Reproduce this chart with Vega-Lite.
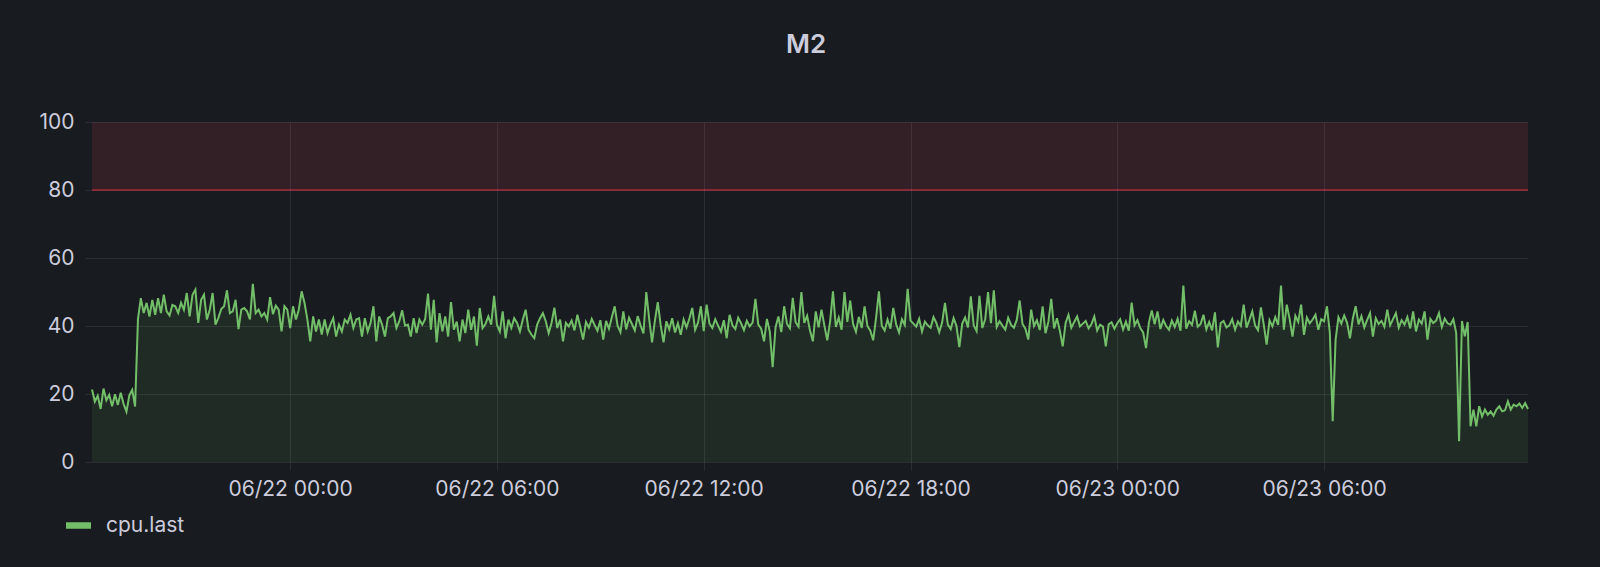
{
"$schema": "https://vega.github.io/schema/vega-lite/v6.json",
"width": 1436,
"height": 340,
"autosize": "none",
"padding": {"left": 92, "top": 122, "right": 72, "bottom": 105},
"background": "#181b1f",
"title": {"text": "M2", "font": "Inter", "fontSize": 26, "fontWeight": 600, "color": "#ccccdc", "anchor": "middle", "frame": "group", "offset": 53, "dx": -4},
"datasets": {
"thr": [{"lo": 80, "hi": 100}],
"cpu": [
{"t":"2021-06-21T18:15:00Z","v":21.3},{"t":"2021-06-21T18:20:00Z","v":17.8},{"t":"2021-06-21T18:25:00Z","v":19.5},{"t":"2021-06-21T18:30:00Z","v":15.6},{"t":"2021-06-21T18:35:00Z","v":21.6},{"t":"2021-06-21T18:40:00Z","v":18.2},{"t":"2021-06-21T18:45:00Z","v":19.8},{"t":"2021-06-21T18:50:00Z","v":16.4},{"t":"2021-06-21T18:55:00Z","v":19.9},
{"t":"2021-06-21T19:00:00Z","v":16.8},{"t":"2021-06-21T19:05:00Z","v":20.4},{"t":"2021-06-21T19:10:00Z","v":17.1},{"t":"2021-06-21T19:15:00Z","v":14.8},{"t":"2021-06-21T19:20:00Z","v":19.6},{"t":"2021-06-21T19:25:00Z","v":21.2},{"t":"2021-06-21T19:30:00Z","v":16.3},{"t":"2021-06-21T19:35:00Z","v":42.0},{"t":"2021-06-21T19:40:00Z","v":48.2},{"t":"2021-06-21T19:45:00Z","v":43.8},{"t":"2021-06-21T19:50:00Z","v":46.8},{"t":"2021-06-21T19:55:00Z","v":42.8},
{"t":"2021-06-21T20:00:00Z","v":47.7},{"t":"2021-06-21T20:05:00Z","v":43.3},{"t":"2021-06-21T20:10:00Z","v":48.2},{"t":"2021-06-21T20:15:00Z","v":43.8},{"t":"2021-06-21T20:20:00Z","v":49.2},{"t":"2021-06-21T20:25:00Z","v":44.3},{"t":"2021-06-21T20:30:00Z","v":43.1},{"t":"2021-06-21T20:35:00Z","v":46.2},{"t":"2021-06-21T20:40:00Z","v":45.8},{"t":"2021-06-21T20:45:00Z","v":43.8},{"t":"2021-06-21T20:50:00Z","v":46.8},{"t":"2021-06-21T20:55:00Z","v":44.8},
{"t":"2021-06-21T21:00:00Z","v":49.7},{"t":"2021-06-21T21:05:00Z","v":42.8},{"t":"2021-06-21T21:10:00Z","v":49.2},{"t":"2021-06-21T21:15:00Z","v":50.7},{"t":"2021-06-21T21:20:00Z","v":40.9},{"t":"2021-06-21T21:25:00Z","v":47.7},{"t":"2021-06-21T21:30:00Z","v":49.2},{"t":"2021-06-21T21:35:00Z","v":41.9},{"t":"2021-06-21T21:40:00Z","v":44.8},{"t":"2021-06-21T21:45:00Z","v":49.7},{"t":"2021-06-21T21:50:00Z","v":40.4},{"t":"2021-06-21T21:55:00Z","v":42.4},
{"t":"2021-06-21T22:00:00Z","v":45.0},{"t":"2021-06-21T22:05:00Z","v":45.8},{"t":"2021-06-21T22:10:00Z","v":50.5},{"t":"2021-06-21T22:15:00Z","v":43.8},{"t":"2021-06-21T22:20:00Z","v":44.3},{"t":"2021-06-21T22:25:00Z","v":47.7},{"t":"2021-06-21T22:30:00Z","v":39.1},{"t":"2021-06-21T22:35:00Z","v":44.8},{"t":"2021-06-21T22:40:00Z","v":45.3},{"t":"2021-06-21T22:45:00Z","v":44.3},{"t":"2021-06-21T22:50:00Z","v":41.9},{"t":"2021-06-21T22:55:00Z","v":52.4},
{"t":"2021-06-21T23:00:00Z","v":43.8},{"t":"2021-06-21T23:05:00Z","v":44.8},{"t":"2021-06-21T23:10:00Z","v":42.8},{"t":"2021-06-21T23:15:00Z","v":43.8},{"t":"2021-06-21T23:20:00Z","v":41.9},{"t":"2021-06-21T23:25:00Z","v":48.5},{"t":"2021-06-21T23:30:00Z","v":43.5},{"t":"2021-06-21T23:35:00Z","v":46.0},{"t":"2021-06-21T23:40:00Z","v":44.8},{"t":"2021-06-21T23:45:00Z","v":38.4},{"t":"2021-06-21T23:50:00Z","v":45.8},{"t":"2021-06-21T23:55:00Z","v":44.8},
{"t":"2021-06-22T00:00:00Z","v":39.4},{"t":"2021-06-22T00:05:00Z","v":45.8},{"t":"2021-06-22T00:10:00Z","v":41.9},{"t":"2021-06-22T00:15:00Z","v":44.8},{"t":"2021-06-22T00:20:00Z","v":50.2},{"t":"2021-06-22T00:25:00Z","v":46.8},{"t":"2021-06-22T00:30:00Z","v":41.9},{"t":"2021-06-22T00:35:00Z","v":35.5},{"t":"2021-06-22T00:40:00Z","v":42.8},{"t":"2021-06-22T00:45:00Z","v":38.4},{"t":"2021-06-22T00:50:00Z","v":41.9},{"t":"2021-06-22T00:55:00Z","v":37.5},
{"t":"2021-06-22T01:00:00Z","v":41.9},{"t":"2021-06-22T01:05:00Z","v":37.9},{"t":"2021-06-22T01:10:00Z","v":40.4},{"t":"2021-06-22T01:15:00Z","v":42.3},{"t":"2021-06-22T01:20:00Z","v":36.9},{"t":"2021-06-22T01:25:00Z","v":40.4},{"t":"2021-06-22T01:30:00Z","v":38.4},{"t":"2021-06-22T01:35:00Z","v":41.9},{"t":"2021-06-22T01:40:00Z","v":40.9},{"t":"2021-06-22T01:45:00Z","v":43.3},{"t":"2021-06-22T01:50:00Z","v":39.4},{"t":"2021-06-22T01:55:00Z","v":41.9},
{"t":"2021-06-22T02:00:00Z","v":42.3},{"t":"2021-06-22T02:05:00Z","v":36.9},{"t":"2021-06-22T02:10:00Z","v":42.3},{"t":"2021-06-22T02:15:00Z","v":38.4},{"t":"2021-06-22T02:20:00Z","v":40.9},{"t":"2021-06-22T02:25:00Z","v":45.8},{"t":"2021-06-22T02:30:00Z","v":35.5},{"t":"2021-06-22T02:35:00Z","v":42.8},{"t":"2021-06-22T02:40:00Z","v":40.4},{"t":"2021-06-22T02:45:00Z","v":36.9},{"t":"2021-06-22T02:50:00Z","v":42.3},{"t":"2021-06-22T02:55:00Z","v":42.8},
{"t":"2021-06-22T03:00:00Z","v":43.8},{"t":"2021-06-22T03:05:00Z","v":39.4},{"t":"2021-06-22T03:10:00Z","v":41.4},{"t":"2021-06-22T03:15:00Z","v":44.6},{"t":"2021-06-22T03:20:00Z","v":40.1},{"t":"2021-06-22T03:25:00Z","v":40.4},{"t":"2021-06-22T03:30:00Z","v":36.9},{"t":"2021-06-22T03:35:00Z","v":42.3},{"t":"2021-06-22T03:40:00Z","v":37.9},{"t":"2021-06-22T03:45:00Z","v":41.9},{"t":"2021-06-22T03:50:00Z","v":40.4},{"t":"2021-06-22T03:55:00Z","v":42.0},
{"t":"2021-06-22T04:00:00Z","v":49.5},{"t":"2021-06-22T04:05:00Z","v":38.9},{"t":"2021-06-22T04:10:00Z","v":47.7},{"t":"2021-06-22T04:15:00Z","v":35.2},{"t":"2021-06-22T04:20:00Z","v":43.8},{"t":"2021-06-22T04:25:00Z","v":38.4},{"t":"2021-06-22T04:30:00Z","v":42.8},{"t":"2021-06-22T04:35:00Z","v":36.9},{"t":"2021-06-22T04:40:00Z","v":47.0},{"t":"2021-06-22T04:45:00Z","v":38.9},{"t":"2021-06-22T04:50:00Z","v":41.3},{"t":"2021-06-22T04:55:00Z","v":35.5},
{"t":"2021-06-22T05:00:00Z","v":41.9},{"t":"2021-06-22T05:05:00Z","v":37.9},{"t":"2021-06-22T05:10:00Z","v":44.8},{"t":"2021-06-22T05:15:00Z","v":38.9},{"t":"2021-06-22T05:20:00Z","v":42.8},{"t":"2021-06-22T05:25:00Z","v":34.2},{"t":"2021-06-22T05:30:00Z","v":45.3},{"t":"2021-06-22T05:35:00Z","v":39.4},{"t":"2021-06-22T05:40:00Z","v":40.6},{"t":"2021-06-22T05:45:00Z","v":42.8},{"t":"2021-06-22T05:50:00Z","v":40.4},{"t":"2021-06-22T05:55:00Z","v":48.9},
{"t":"2021-06-22T06:00:00Z","v":40.4},{"t":"2021-06-22T06:05:00Z","v":38.4},{"t":"2021-06-22T06:10:00Z","v":44.3},{"t":"2021-06-22T06:15:00Z","v":36.4},{"t":"2021-06-22T06:20:00Z","v":41.9},{"t":"2021-06-22T06:25:00Z","v":39.4},{"t":"2021-06-22T06:30:00Z","v":42.3},{"t":"2021-06-22T06:35:00Z","v":40.9},{"t":"2021-06-22T06:40:00Z","v":38.4},{"t":"2021-06-22T06:45:00Z","v":41.9},{"t":"2021-06-22T06:50:00Z","v":44.8},{"t":"2021-06-22T06:55:00Z","v":38.9},
{"t":"2021-06-22T07:00:00Z","v":37.5},{"t":"2021-06-22T07:05:00Z","v":36.4},{"t":"2021-06-22T07:10:00Z","v":40.4},{"t":"2021-06-22T07:15:00Z","v":42.3},{"t":"2021-06-22T07:20:00Z","v":43.8},{"t":"2021-06-22T07:25:00Z","v":41.4},{"t":"2021-06-22T07:30:00Z","v":37.9},{"t":"2021-06-22T07:35:00Z","v":40.9},{"t":"2021-06-22T07:40:00Z","v":45.4},{"t":"2021-06-22T07:45:00Z","v":39.4},{"t":"2021-06-22T07:50:00Z","v":41.9},{"t":"2021-06-22T07:55:00Z","v":35.5},
{"t":"2021-06-22T08:00:00Z","v":40.9},{"t":"2021-06-22T08:05:00Z","v":39.9},{"t":"2021-06-22T08:10:00Z","v":41.6},{"t":"2021-06-22T08:15:00Z","v":38.7},{"t":"2021-06-22T08:20:00Z","v":43.3},{"t":"2021-06-22T08:25:00Z","v":39.8},{"t":"2021-06-22T08:30:00Z","v":36.0},{"t":"2021-06-22T08:35:00Z","v":41.2},{"t":"2021-06-22T08:40:00Z","v":39.5},{"t":"2021-06-22T08:45:00Z","v":42.1},{"t":"2021-06-22T08:50:00Z","v":40.3},{"t":"2021-06-22T08:55:00Z","v":38.6},
{"t":"2021-06-22T09:00:00Z","v":41.7},{"t":"2021-06-22T09:05:00Z","v":36.0},{"t":"2021-06-22T09:10:00Z","v":41.5},{"t":"2021-06-22T09:15:00Z","v":39.2},{"t":"2021-06-22T09:20:00Z","v":42.6},{"t":"2021-06-22T09:25:00Z","v":45.8},{"t":"2021-06-22T09:30:00Z","v":40.1},{"t":"2021-06-22T09:35:00Z","v":38.2},{"t":"2021-06-22T09:40:00Z","v":44.3},{"t":"2021-06-22T09:45:00Z","v":39.0},{"t":"2021-06-22T09:50:00Z","v":42.4},{"t":"2021-06-22T09:55:00Z","v":40.6},
{"t":"2021-06-22T10:00:00Z","v":38.7},{"t":"2021-06-22T10:05:00Z","v":42.9},{"t":"2021-06-22T10:10:00Z","v":40.2},{"t":"2021-06-22T10:15:00Z","v":37.8},{"t":"2021-06-22T10:20:00Z","v":50.0},{"t":"2021-06-22T10:25:00Z","v":42.1},{"t":"2021-06-22T10:30:00Z","v":35.2},{"t":"2021-06-22T10:35:00Z","v":41.6},{"t":"2021-06-22T10:40:00Z","v":47.0},{"t":"2021-06-22T10:45:00Z","v":40.3},{"t":"2021-06-22T10:50:00Z","v":35.2},{"t":"2021-06-22T10:55:00Z","v":41.4},
{"t":"2021-06-22T11:00:00Z","v":39.0},{"t":"2021-06-22T11:05:00Z","v":42.3},{"t":"2021-06-22T11:10:00Z","v":38.1},{"t":"2021-06-22T11:15:00Z","v":40.8},{"t":"2021-06-22T11:20:00Z","v":37.4},{"t":"2021-06-22T11:25:00Z","v":41.9},{"t":"2021-06-22T11:30:00Z","v":39.6},{"t":"2021-06-22T11:35:00Z","v":42.2},{"t":"2021-06-22T11:40:00Z","v":45.3},{"t":"2021-06-22T11:45:00Z","v":38.9},{"t":"2021-06-22T11:50:00Z","v":41.0},{"t":"2021-06-22T11:55:00Z","v":45.8},
{"t":"2021-06-22T12:00:00Z","v":38.5},{"t":"2021-06-22T12:05:00Z","v":46.3},{"t":"2021-06-22T12:10:00Z","v":40.7},{"t":"2021-06-22T12:15:00Z","v":39.4},{"t":"2021-06-22T12:20:00Z","v":42.0},{"t":"2021-06-22T12:25:00Z","v":40.1},{"t":"2021-06-22T12:30:00Z","v":38.3},{"t":"2021-06-22T12:35:00Z","v":41.7},{"t":"2021-06-22T12:40:00Z","v":36.4},{"t":"2021-06-22T12:45:00Z","v":43.3},{"t":"2021-06-22T12:50:00Z","v":40.2},{"t":"2021-06-22T12:55:00Z","v":39.1},
{"t":"2021-06-22T13:00:00Z","v":42.4},{"t":"2021-06-22T13:05:00Z","v":40.8},{"t":"2021-06-22T13:10:00Z","v":38.8},{"t":"2021-06-22T13:15:00Z","v":41.5},{"t":"2021-06-22T13:20:00Z","v":39.9},{"t":"2021-06-22T13:25:00Z","v":41.0},{"t":"2021-06-22T13:30:00Z","v":48.0},{"t":"2021-06-22T13:35:00Z","v":40.4},{"t":"2021-06-22T13:40:00Z","v":39.2},{"t":"2021-06-22T13:45:00Z","v":35.5},{"t":"2021-06-22T13:50:00Z","v":42.1},{"t":"2021-06-22T13:55:00Z","v":38.4},
{"t":"2021-06-22T14:00:00Z","v":27.9},{"t":"2021-06-22T14:05:00Z","v":39.6},{"t":"2021-06-22T14:10:00Z","v":42.8},{"t":"2021-06-22T14:15:00Z","v":38.2},{"t":"2021-06-22T14:20:00Z","v":45.8},{"t":"2021-06-22T14:25:00Z","v":40.6},{"t":"2021-06-22T14:30:00Z","v":39.3},{"t":"2021-06-22T14:35:00Z","v":48.3},{"t":"2021-06-22T14:40:00Z","v":41.1},{"t":"2021-06-22T14:45:00Z","v":39.8},{"t":"2021-06-22T14:50:00Z","v":50.0},{"t":"2021-06-22T14:55:00Z","v":40.9},
{"t":"2021-06-22T15:00:00Z","v":43.0},{"t":"2021-06-22T15:05:00Z","v":38.7},{"t":"2021-06-22T15:10:00Z","v":35.5},{"t":"2021-06-22T15:15:00Z","v":44.3},{"t":"2021-06-22T15:20:00Z","v":39.6},{"t":"2021-06-22T15:25:00Z","v":44.8},{"t":"2021-06-22T15:30:00Z","v":40.2},{"t":"2021-06-22T15:35:00Z","v":35.8},{"t":"2021-06-22T15:40:00Z","v":41.3},{"t":"2021-06-22T15:45:00Z","v":50.2},{"t":"2021-06-22T15:50:00Z","v":39.7},{"t":"2021-06-22T15:55:00Z","v":42.5},
{"t":"2021-06-22T16:00:00Z","v":38.9},{"t":"2021-06-22T16:05:00Z","v":50.0},{"t":"2021-06-22T16:10:00Z","v":41.2},{"t":"2021-06-22T16:15:00Z","v":47.5},{"t":"2021-06-22T16:20:00Z","v":40.6},{"t":"2021-06-22T16:25:00Z","v":38.3},{"t":"2021-06-22T16:30:00Z","v":42.7},{"t":"2021-06-22T16:35:00Z","v":39.4},{"t":"2021-06-22T16:40:00Z","v":45.8},{"t":"2021-06-22T16:45:00Z","v":40.0},{"t":"2021-06-22T16:50:00Z","v":38.6},{"t":"2021-06-22T16:55:00Z","v":35.8},
{"t":"2021-06-22T17:00:00Z","v":42.4},{"t":"2021-06-22T17:05:00Z","v":50.2},{"t":"2021-06-22T17:10:00Z","v":40.1},{"t":"2021-06-22T17:15:00Z","v":38.7},{"t":"2021-06-22T17:20:00Z","v":41.9},{"t":"2021-06-22T17:25:00Z","v":39.2},{"t":"2021-06-22T17:30:00Z","v":45.3},{"t":"2021-06-22T17:35:00Z","v":40.5},{"t":"2021-06-22T17:40:00Z","v":38.1},{"t":"2021-06-22T17:45:00Z","v":42.0},{"t":"2021-06-22T17:50:00Z","v":40.3},{"t":"2021-06-22T17:55:00Z","v":50.9},
{"t":"2021-06-22T18:00:00Z","v":41.6},{"t":"2021-06-22T18:05:00Z","v":40.7},{"t":"2021-06-22T18:10:00Z","v":39.8},{"t":"2021-06-22T18:15:00Z","v":42.1},{"t":"2021-06-22T18:20:00Z","v":38.4},{"t":"2021-06-22T18:25:00Z","v":41.3},{"t":"2021-06-22T18:30:00Z","v":40.2},{"t":"2021-06-22T18:35:00Z","v":39.5},{"t":"2021-06-22T18:40:00Z","v":42.6},{"t":"2021-06-22T18:45:00Z","v":40.9},{"t":"2021-06-22T18:50:00Z","v":38.2},{"t":"2021-06-22T18:55:00Z","v":41.0},
{"t":"2021-06-22T19:00:00Z","v":46.8},{"t":"2021-06-22T19:05:00Z","v":40.4},{"t":"2021-06-22T19:10:00Z","v":39.1},{"t":"2021-06-22T19:15:00Z","v":42.3},{"t":"2021-06-22T19:20:00Z","v":40.0},{"t":"2021-06-22T19:25:00Z","v":33.8},{"t":"2021-06-22T19:30:00Z","v":40.7},{"t":"2021-06-22T19:35:00Z","v":42.5},{"t":"2021-06-22T19:40:00Z","v":39.6},{"t":"2021-06-22T19:45:00Z","v":48.7},{"t":"2021-06-22T19:50:00Z","v":40.2},{"t":"2021-06-22T19:55:00Z","v":38.5},
{"t":"2021-06-22T20:00:00Z","v":48.9},{"t":"2021-06-22T20:05:00Z","v":39.4},{"t":"2021-06-22T20:10:00Z","v":42.0},{"t":"2021-06-22T20:15:00Z","v":50.0},{"t":"2021-06-22T20:20:00Z","v":40.8},{"t":"2021-06-22T20:25:00Z","v":50.5},{"t":"2021-06-22T20:30:00Z","v":39.7},{"t":"2021-06-22T20:35:00Z","v":41.4},{"t":"2021-06-22T20:40:00Z","v":40.1},{"t":"2021-06-22T20:45:00Z","v":38.9},{"t":"2021-06-22T20:50:00Z","v":42.4},{"t":"2021-06-22T20:55:00Z","v":40.3},
{"t":"2021-06-22T21:00:00Z","v":39.5},{"t":"2021-06-22T21:05:00Z","v":41.8},{"t":"2021-06-22T21:10:00Z","v":47.5},{"t":"2021-06-22T21:15:00Z","v":40.6},{"t":"2021-06-22T21:20:00Z","v":39.2},{"t":"2021-06-22T21:25:00Z","v":36.0},{"t":"2021-06-22T21:30:00Z","v":44.8},{"t":"2021-06-22T21:35:00Z","v":40.0},{"t":"2021-06-22T21:40:00Z","v":41.7},{"t":"2021-06-22T21:45:00Z","v":38.8},{"t":"2021-06-22T21:50:00Z","v":45.8},{"t":"2021-06-22T21:55:00Z","v":37.9},
{"t":"2021-06-22T22:00:00Z","v":41.2},{"t":"2021-06-22T22:05:00Z","v":48.0},{"t":"2021-06-22T22:10:00Z","v":39.3},{"t":"2021-06-22T22:15:00Z","v":42.3},{"t":"2021-06-22T22:20:00Z","v":38.6},{"t":"2021-06-22T22:25:00Z","v":34.0},{"t":"2021-06-22T22:30:00Z","v":40.9},{"t":"2021-06-22T22:35:00Z","v":43.3},{"t":"2021-06-22T22:40:00Z","v":39.5},{"t":"2021-06-22T22:45:00Z","v":41.2},{"t":"2021-06-22T22:50:00Z","v":42.8},{"t":"2021-06-22T22:55:00Z","v":39.9},
{"t":"2021-06-22T23:00:00Z","v":40.7},{"t":"2021-06-22T23:05:00Z","v":41.5},{"t":"2021-06-22T23:10:00Z","v":39.3},{"t":"2021-06-22T23:15:00Z","v":40.6},{"t":"2021-06-22T23:20:00Z","v":42.8},{"t":"2021-06-22T23:25:00Z","v":38.7},{"t":"2021-06-22T23:30:00Z","v":40.4},{"t":"2021-06-22T23:35:00Z","v":39.8},{"t":"2021-06-22T23:40:00Z","v":34.0},{"t":"2021-06-22T23:45:00Z","v":40.5},{"t":"2021-06-22T23:50:00Z","v":41.1},{"t":"2021-06-22T23:55:00Z","v":39.2},
{"t":"2021-06-23T00:00:00Z","v":40.8},{"t":"2021-06-23T00:05:00Z","v":42.0},{"t":"2021-06-23T00:10:00Z","v":39.0},{"t":"2021-06-23T00:15:00Z","v":41.3},{"t":"2021-06-23T00:20:00Z","v":38.6},{"t":"2021-06-23T00:25:00Z","v":46.9},{"t":"2021-06-23T00:30:00Z","v":40.2},{"t":"2021-06-23T00:35:00Z","v":41.7},{"t":"2021-06-23T00:40:00Z","v":39.4},{"t":"2021-06-23T00:45:00Z","v":38.1},{"t":"2021-06-23T00:50:00Z","v":33.5},{"t":"2021-06-23T00:55:00Z","v":41.0},
{"t":"2021-06-23T01:00:00Z","v":44.6},{"t":"2021-06-23T01:05:00Z","v":40.5},{"t":"2021-06-23T01:10:00Z","v":44.3},{"t":"2021-06-23T01:15:00Z","v":39.1},{"t":"2021-06-23T01:20:00Z","v":41.8},{"t":"2021-06-23T01:25:00Z","v":40.0},{"t":"2021-06-23T01:30:00Z","v":38.9},{"t":"2021-06-23T01:35:00Z","v":41.6},{"t":"2021-06-23T01:40:00Z","v":39.7},{"t":"2021-06-23T01:45:00Z","v":42.1},{"t":"2021-06-23T01:50:00Z","v":38.6},{"t":"2021-06-23T01:55:00Z","v":51.9},
{"t":"2021-06-23T02:00:00Z","v":39.2},{"t":"2021-06-23T02:05:00Z","v":41.4},{"t":"2021-06-23T02:10:00Z","v":40.3},{"t":"2021-06-23T02:15:00Z","v":44.5},{"t":"2021-06-23T02:20:00Z","v":39.8},{"t":"2021-06-23T02:25:00Z","v":40.6},{"t":"2021-06-23T02:30:00Z","v":43.3},{"t":"2021-06-23T02:35:00Z","v":39.0},{"t":"2021-06-23T02:40:00Z","v":41.2},{"t":"2021-06-23T02:45:00Z","v":38.7},{"t":"2021-06-23T02:50:00Z","v":44.0},{"t":"2021-06-23T02:55:00Z","v":33.7},
{"t":"2021-06-23T03:00:00Z","v":40.9},{"t":"2021-06-23T03:05:00Z","v":41.5},{"t":"2021-06-23T03:10:00Z","v":39.6},{"t":"2021-06-23T03:15:00Z","v":40.2},{"t":"2021-06-23T03:20:00Z","v":42.0},{"t":"2021-06-23T03:25:00Z","v":38.9},{"t":"2021-06-23T03:30:00Z","v":41.3},{"t":"2021-06-23T03:35:00Z","v":40.0},{"t":"2021-06-23T03:40:00Z","v":46.3},{"t":"2021-06-23T03:45:00Z","v":39.5},{"t":"2021-06-23T03:50:00Z","v":41.8},{"t":"2021-06-23T03:55:00Z","v":44.3},
{"t":"2021-06-23T04:00:00Z","v":40.1},{"t":"2021-06-23T04:05:00Z","v":38.8},{"t":"2021-06-23T04:10:00Z","v":45.5},{"t":"2021-06-23T04:15:00Z","v":40.4},{"t":"2021-06-23T04:20:00Z","v":34.5},{"t":"2021-06-23T04:25:00Z","v":41.7},{"t":"2021-06-23T04:30:00Z","v":39.9},{"t":"2021-06-23T04:35:00Z","v":42.6},{"t":"2021-06-23T04:40:00Z","v":40.3},{"t":"2021-06-23T04:45:00Z","v":51.9},{"t":"2021-06-23T04:50:00Z","v":38.9},{"t":"2021-06-23T04:55:00Z","v":46.3},
{"t":"2021-06-23T05:00:00Z","v":42.1},{"t":"2021-06-23T05:05:00Z","v":36.9},{"t":"2021-06-23T05:10:00Z","v":43.0},{"t":"2021-06-23T05:15:00Z","v":41.2},{"t":"2021-06-23T05:20:00Z","v":46.3},{"t":"2021-06-23T05:25:00Z","v":37.4},{"t":"2021-06-23T05:30:00Z","v":42.5},{"t":"2021-06-23T05:35:00Z","v":40.8},{"t":"2021-06-23T05:40:00Z","v":41.9},{"t":"2021-06-23T05:45:00Z","v":43.3},{"t":"2021-06-23T05:50:00Z","v":38.9},{"t":"2021-06-23T05:55:00Z","v":42.0},
{"t":"2021-06-23T06:00:00Z","v":41.4},{"t":"2021-06-23T06:05:00Z","v":45.8},{"t":"2021-06-23T06:10:00Z","v":38.0},{"t":"2021-06-23T06:15:00Z","v":12.0},{"t":"2021-06-23T06:20:00Z","v":36.0},{"t":"2021-06-23T06:25:00Z","v":42.6},{"t":"2021-06-23T06:30:00Z","v":40.7},{"t":"2021-06-23T06:35:00Z","v":43.1},{"t":"2021-06-23T06:40:00Z","v":41.0},{"t":"2021-06-23T06:45:00Z","v":36.4},{"t":"2021-06-23T06:50:00Z","v":42.2},{"t":"2021-06-23T06:55:00Z","v":45.8},
{"t":"2021-06-23T07:00:00Z","v":40.5},{"t":"2021-06-23T07:05:00Z","v":42.9},{"t":"2021-06-23T07:10:00Z","v":39.6},{"t":"2021-06-23T07:15:00Z","v":41.8},{"t":"2021-06-23T07:20:00Z","v":43.8},{"t":"2021-06-23T07:25:00Z","v":36.9},{"t":"2021-06-23T07:30:00Z","v":42.3},{"t":"2021-06-23T07:35:00Z","v":40.6},{"t":"2021-06-23T07:40:00Z","v":41.5},{"t":"2021-06-23T07:45:00Z","v":39.8},{"t":"2021-06-23T07:50:00Z","v":44.8},{"t":"2021-06-23T07:55:00Z","v":40.2},
{"t":"2021-06-23T08:00:00Z","v":42.0},{"t":"2021-06-23T08:05:00Z","v":43.8},{"t":"2021-06-23T08:10:00Z","v":39.5},{"t":"2021-06-23T08:15:00Z","v":41.7},{"t":"2021-06-23T08:20:00Z","v":40.4},{"t":"2021-06-23T08:25:00Z","v":42.6},{"t":"2021-06-23T08:30:00Z","v":39.3},{"t":"2021-06-23T08:35:00Z","v":44.3},{"t":"2021-06-23T08:40:00Z","v":38.4},{"t":"2021-06-23T08:45:00Z","v":41.9},{"t":"2021-06-23T08:50:00Z","v":40.7},{"t":"2021-06-23T08:55:00Z","v":44.3},
{"t":"2021-06-23T09:00:00Z","v":36.0},{"t":"2021-06-23T09:05:00Z","v":42.1},{"t":"2021-06-23T09:10:00Z","v":40.9},{"t":"2021-06-23T09:15:00Z","v":41.6},{"t":"2021-06-23T09:20:00Z","v":43.8},{"t":"2021-06-23T09:25:00Z","v":39.7},{"t":"2021-06-23T09:30:00Z","v":42.2},{"t":"2021-06-23T09:35:00Z","v":40.8},{"t":"2021-06-23T09:40:00Z","v":40.4},{"t":"2021-06-23T09:45:00Z","v":42.0},{"t":"2021-06-23T09:50:00Z","v":38.0},{"t":"2021-06-23T09:55:00Z","v":6.1},
{"t":"2021-06-23T10:00:00Z","v":41.5},{"t":"2021-06-23T10:05:00Z","v":37.0},{"t":"2021-06-23T10:10:00Z","v":41.2},{"t":"2021-06-23T10:15:00Z","v":10.5},{"t":"2021-06-23T10:20:00Z","v":15.4},{"t":"2021-06-23T10:25:00Z","v":10.5},{"t":"2021-06-23T10:30:00Z","v":16.4},{"t":"2021-06-23T10:35:00Z","v":13.4},{"t":"2021-06-23T10:40:00Z","v":15.4},{"t":"2021-06-23T10:45:00Z","v":13.9},{"t":"2021-06-23T10:50:00Z","v":14.9},{"t":"2021-06-23T10:55:00Z","v":13.6},
{"t":"2021-06-23T11:00:00Z","v":15.4},{"t":"2021-06-23T11:05:00Z","v":16.4},{"t":"2021-06-23T11:10:00Z","v":14.9},{"t":"2021-06-23T11:15:00Z","v":15.2},{"t":"2021-06-23T11:20:00Z","v":17.8},{"t":"2021-06-23T11:25:00Z","v":15.4},{"t":"2021-06-23T11:30:00Z","v":16.9},{"t":"2021-06-23T11:35:00Z","v":16.4},{"t":"2021-06-23T11:40:00Z","v":17.2},{"t":"2021-06-23T11:45:00Z","v":15.9},{"t":"2021-06-23T11:50:00Z","v":17.3},{"t":"2021-06-23T11:55:00Z","v":15.6}
]
},
"layer": [
{
"data": {"name": "thr"},
"mark": {"type": "rect", "color": "#F2495C", "opacity": 0.12},
"encoding": {
"y": {"field": "lo", "type": "quantitative", "scale": {"domain": [0, 100], "nice": false}},
"y2": {"field": "hi"}
}
},
{
"data": {"name": "thr"},
"mark": {"type": "rule", "color": "#E02F44", "strokeWidth": 1.2},
"encoding": {
"y": {"field": "lo", "type": "quantitative"}
}
},
{
"data": {"name": "cpu"},
"mark": {"type": "area", "color": "#73BF69", "opacity": 0.1},
"encoding": {
"x": {"field": "t", "type": "temporal",
"scale": {"type": "utc", "domain": [{"year": 2021, "month": 6, "date": 21, "hours": 18, "minutes": 15, "utc": true}, {"year": 2021, "month": 6, "date": 23, "hours": 11, "minutes": 55, "utc": true}]},
"axis": {"title": null, "format": "%m/%d %H:%M",
"values": [{"year": 2021, "month": 6, "date": 22, "hours": 0, "utc": true}, {"year": 2021, "month": 6, "date": 22, "hours": 6, "utc": true}, {"year": 2021, "month": 6, "date": 22, "hours": 12, "utc": true}, {"year": 2021, "month": 6, "date": 22, "hours": 18, "utc": true}, {"year": 2021, "month": 6, "date": 23, "hours": 0, "utc": true}, {"year": 2021, "month": 6, "date": 23, "hours": 6, "utc": true}]}},
"y": {"field": "v", "type": "quantitative", "scale": {"domain": [0, 100], "nice": false},
"axis": {"title": null, "values": [0, 20, 40, 60, 80, 100]}}
}
},
{
"data": {"name": "cpu"},
"mark": {"type": "line", "strokeWidth": 2},
"encoding": {
"x": {"field": "t", "type": "temporal"},
"y": {"field": "v", "type": "quantitative"},
"color": {"datum": "cpu.last", "type": "nominal", "scale": {"range": ["#73BF69"]},
"legend": {"orient": "none", "legendX": -26, "legendY": 391, "title": null, "padding": 0,
"symbolType": "M-1,-0.26L1,-0.26L1,0.26L-1,0.26Z", "symbolSize": 625,
"symbolFillColor": "#73BF69", "symbolStrokeColor": "#73BF69", "symbolStrokeWidth": 0,
"labelFont": "Inter", "labelFontSize": 21, "labelColor": "#ccccdc", "labelOffset": 15}}
}
}
],
"config": {
"view": {"stroke": null},
"axis": {"labelFont": "Inter", "labelFontSize": 21, "labelColor": "#ccccdc", "domain": false, "grid": true, "gridColor": "#ccccdc", "gridOpacity": 0.1, "tickColor": "#ccccdc", "tickOpacity": 0.1},
"axisX": {"tickSize": 8, "labelPadding": 8},
"axisY": {"tickSize": 7, "labelPadding": 11}
}
}
